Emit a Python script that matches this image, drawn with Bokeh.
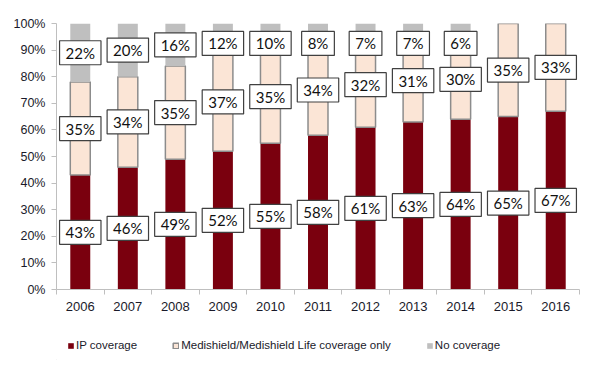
from bokeh.plotting import figure
from bokeh.models import (ColumnDataSource, Range1d, FixedTicker, PrintfTickFormatter,
                          Legend, LegendItem)
from bokeh.layouts import column
from bokeh.core.properties import value
from bokeh.embed import file_html
from bokeh.resources import INLINE

years = ["2006", "2007", "2008", "2009", "2010", "2011", "2012", "2013", "2014", "2015", "2016"]
ip_coverage = [43, 46, 49, 52, 55, 58, 61, 63, 64, 65, 67]
medishield_only = [35, 34, 35, 37, 35, 34, 32, 31, 30, 35, 33]
no_coverage = [22, 20, 16, 12, 10, 8, 7, 7, 6, 0, 0]
series_names = ["IP coverage", "Medishield/Medishield Life coverage only", "No coverage"]
y_ticks = [0, 10, 20, 30, 40, 50, 60, 70, 80, 90, 100]

C_IP = "#7A000E"
C_MS = "#FBE5D6"
C_NO = "#BFBFBF"
fills = [C_IP, C_MS, C_NO]
lines = [None, "#8C8C8C", None]
lwidths = [0, 1.5, 0]

idx = list(range(len(years)))
src = ColumnDataSource(dict(x=idx, ip=ip_coverage, ms=medishield_only, no=no_coverage))

p = figure(frame_width=523, frame_height=266, output_backend="svg", toolbar_location=None,
           x_range=Range1d(-0.5, len(years) - 0.5), y_range=Range1d(0, 100),
           min_border_left=56, min_border_right=14, min_border_top=23, min_border_bottom=26)
p.outline_line_color = None
p.xgrid.visible = False
p.ygrid.visible = False

rs = p.vbar_stack(["ip", "ms", "no"], x="x", width=0.42, source=src,
                  fill_color=fills, line_color=lines, line_width=lwidths)

# label boxes
cap = 92.5
lab_x, lab_y, lab_t = [], [], []
for i in idx:
    a, b, c = ip_coverage[i], medishield_only[i], no_coverage[i]
    lab_x.append(i); lab_y.append(a / 2); lab_t.append(f"{a}%")
    lab_x.append(i); lab_y.append(a + b / 2); lab_t.append(f"{b}%")
    if c > 0:
        lab_x.append(i); lab_y.append(min(a + b + c / 2, cap)); lab_t.append(f"{c}%")
lsrc = ColumnDataSource(dict(x=lab_x, y=lab_y, t=lab_t))
p.text(x="x", y="y", text="t", source=lsrc,
       text_align="center", text_baseline="middle",
       text_font=value("Lato"), text_font_size="15px", text_color="#111111",
       background_fill_color="white", border_line_color="#404040",
       border_line_width=1.2, padding=(6, 3))

# axes
p.yaxis.ticker = FixedTicker(ticks=y_ticks)
p.yaxis.formatter = PrintfTickFormatter(format="%d%%")
p.yaxis.axis_line_color = "#BFBFBF"
p.yaxis.major_tick_line_color = "#BFBFBF"
p.yaxis.major_tick_out = 5
p.yaxis.major_tick_in = 0
p.yaxis.minor_tick_line_color = None
p.yaxis.major_label_text_font = "Liberation Sans"
p.yaxis.major_label_text_font_size = "12.5px"
p.yaxis.major_label_text_color = "#1a1a2a"
p.yaxis.major_label_standoff = 6

p.xaxis.ticker = FixedTicker(ticks=idx, minor_ticks=[i - 0.5 for i in range(len(years) + 1)])
p.xaxis.major_label_overrides = {i: y for i, y in zip(idx, years)}
p.xaxis.axis_line_color = "#BFBFBF"
p.xaxis.major_tick_line_color = None
p.xaxis.minor_tick_line_color = "#BFBFBF"
p.xaxis.minor_tick_out = 5
p.xaxis.minor_tick_in = 0
p.xaxis.major_label_text_font = "Liberation Sans"
p.xaxis.major_label_text_font_size = "13px"
p.xaxis.major_label_text_color = "#1a1a2a"
p.xaxis.major_label_standoff = 6

# legend strip below the chart (proxy glyphs kept outside the visible range)
pl = figure(width=593, height=45, output_backend="svg", toolbar_location=None,
            x_range=Range1d(0, 1), y_range=Range1d(0, 1),
            min_border=0, x_axis_type=None, y_axis_type=None)
pl.outline_line_color = None
pl.xgrid.visible = False
pl.ygrid.visible = False
proxy = ColumnDataSource(dict(x=[-5], top=[-5], bottom=[-6]))
dummies = [pl.vbar(x="x", top="top", bottom="bottom", width=0.1, source=proxy,
                   fill_color=f, line_color=lc, line_width=lw)
           for f, lc, lw in zip(fills, lines, lwidths)]
legend = Legend(items=[LegendItem(label=n, renderers=[r]) for n, r in zip(series_names, dummies)],
                orientation="horizontal", location=(11, 8), spacing=35,
                glyph_width=7, glyph_height=7, label_standoff=2, label_height=14,
                label_text_font="Liberation Sans", label_text_font_size="11.5px",
                label_text_color="#1a1a2a", border_line_color=None,
                background_fill_alpha=0, padding=0, margin=0)
pl.add_layout(legend, "center")

layout = column(p, pl, spacing=0)
open("out.html", "w").write(file_html(layout, INLINE))
